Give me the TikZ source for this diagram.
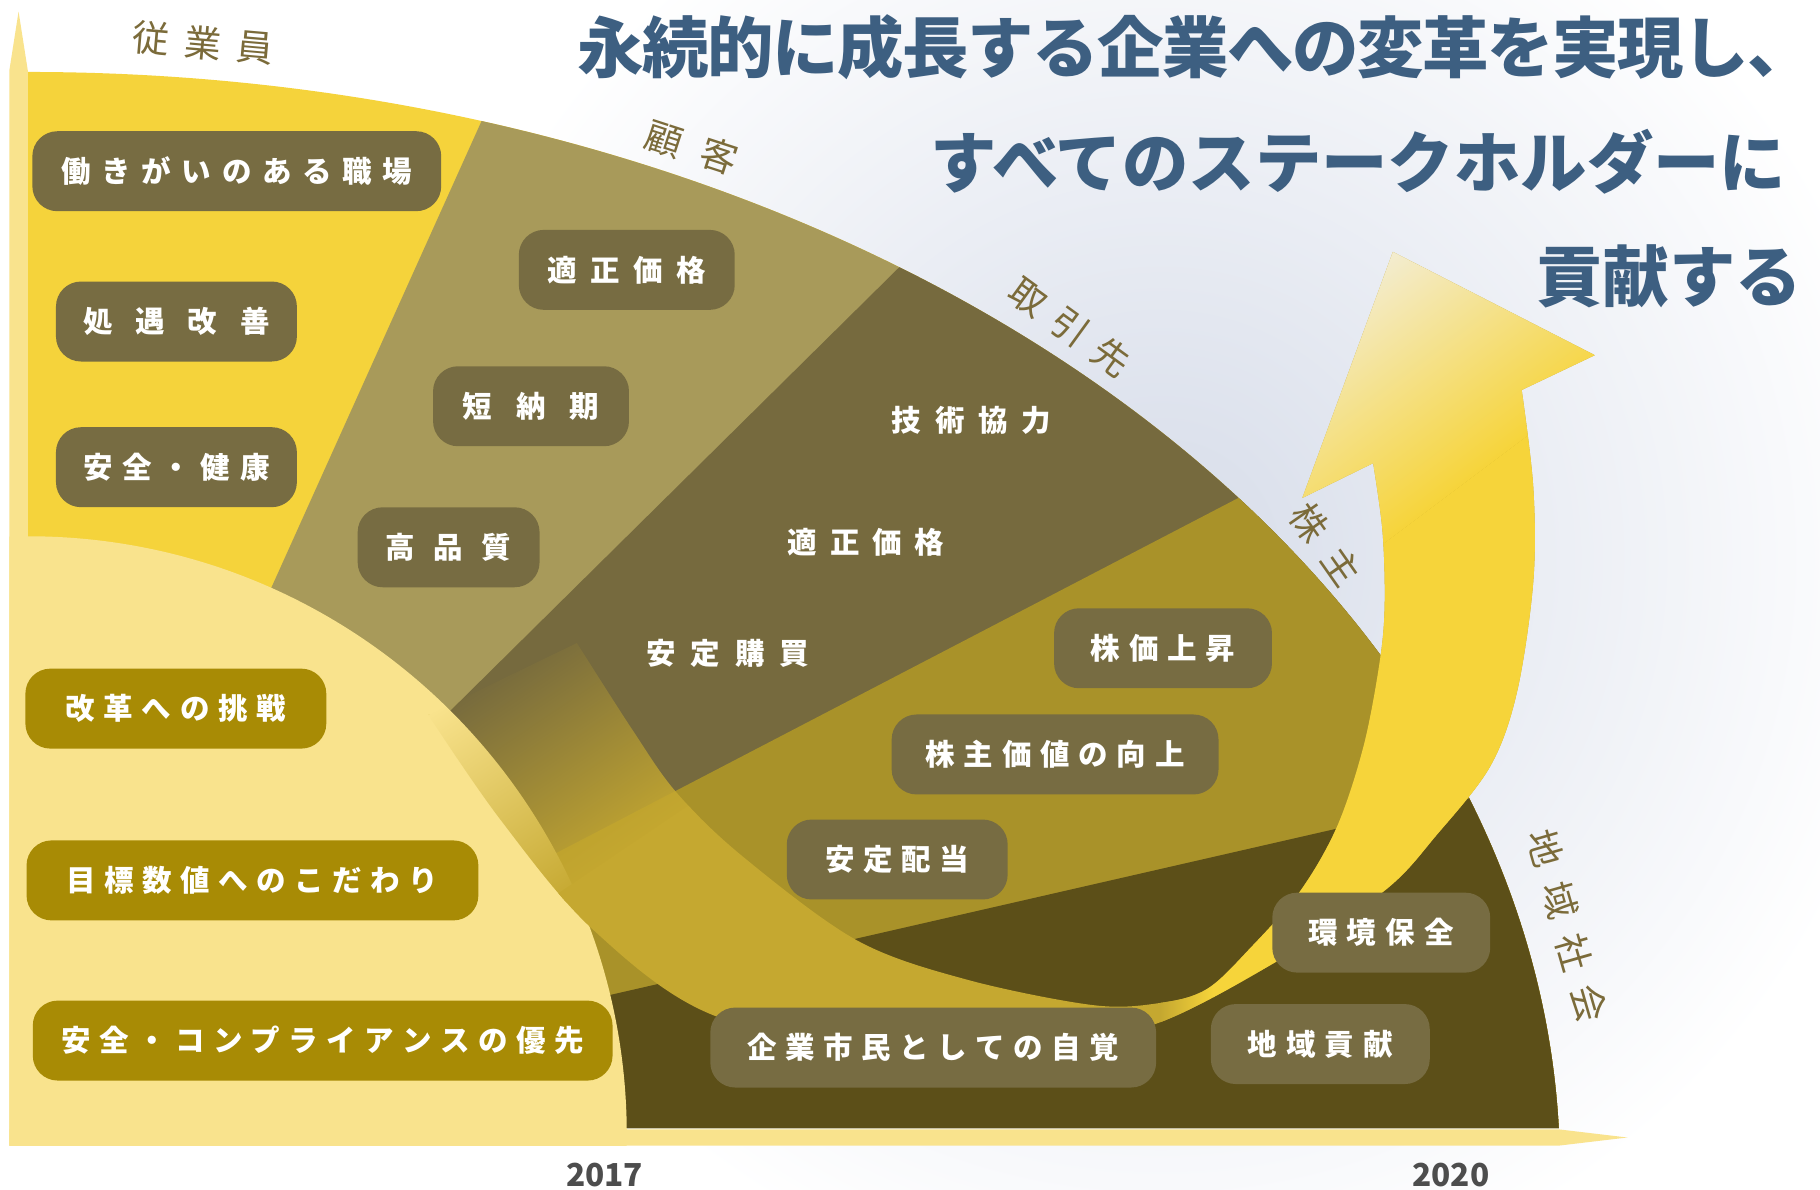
\documentclass[tikz,border=0pt]{standalone}
\usepackage{fontspec}
\usepackage{tikz}
\usetikzlibrary{calc, fadings}
\newfontfamily\jpfont{Noto Sans CJK JP}

\definecolor{empyellow}{HTML}{F5D33B}
\definecolor{custtan}{HTML}{A89A5A}
\definecolor{supolive}{HTML}{766A3E}
\definecolor{sharegold}{HTML}{A99229}
\definecolor{commbrown}{HTML}{5C4F18}
\definecolor{paleyellow}{HTML}{F9E38D}
\definecolor{boxolive}{HTML}{776C42}
\definecolor{boxgold}{HTML}{A88B05}
\definecolor{arrowgold}{HTML}{C5A830}
\definecolor{arrowyellow}{HTML}{F6D43A}
\definecolor{arrowpale}{HTML}{F3EEDA}
\definecolor{titleblue}{HTML}{3D5F81}
\definecolor{labelbrown}{HTML}{7B6B3A}
\definecolor{yeargray}{HTML}{4D4D4D}
\definecolor{glow}{HTML}{D6DCE9}

% letter spaced text: \spacedtext{gap}{characters}
\newlength\chargap
\newcommand\spacedtext[2]{\setlength\chargap{#1}\spacedfirst#2\relax}
\def\spacedfirst#1{#1\spacednext}
\def\spacednext#1{\ifx#1\relax\else\kern\chargap#1\expandafter\spacednext\fi}

% outline of the big arrow
\def\arrowoutline{(369,616) -- plot[smooth, tension=0.55] coordinates {(369,616) (431,706) (511,801) (618,876) (790,905) (900,900) (996,882) (1097,830) (1192,768) (1238,719) (1284,660) (1307,596) (1321,501) (1321,420) (1311,336)} -- (1374,306) -- (1200,217) -- (1122,429) -- (1183,399) -- plot[smooth, tension=0.55] coordinates {(1183,399) (1191,457) (1193,519) (1189,568) (1175,642) (1152,712) (1120,768) (1077,817) (1040,852) (1000,864) (942,866) (833,844) (738,810) (640,738) (583,683) (545,629) (497,554)} -- cycle}

\begin{document}
\begin{tikzpicture}[x=0.0116071cm, y=-0.0116071cm,
    darkbox/.style={fill=boxolive, rounded corners=0.25cm, minimum height=0.8cm, inner sep=0pt,
      text=white, font=\jpfont\bfseries\fontsize{8.4}{10}\selectfont},
    goldbox/.style={darkbox, fill=boxgold},
    plainitem/.style={inner sep=0pt, text=white, font=\jpfont\bfseries\fontsize{8.4}{10}\selectfont},
    group/.style={inner sep=0pt, text=labelbrown, font=\jpfont\fontsize{10.5}{12}\selectfont},
    headline/.style={anchor=west, inner sep=0pt, text=titleblue, font=\jpfont\bfseries\fontsize{18.9}{22}\selectfont},
    year/.style={inner sep=0pt, text=yeargray, font=\jpfont\bfseries\fontsize{9}{10}\selectfont}]
    \useasboundingbox (0,0) rectangle (1568,1024.4);

    % Background glow
    \fill[white] (0,0) rectangle (1568,1024.4);
    \begin{scope}
        \clip (0,0) rectangle (1568,1024.4);
        \shade[inner color=glow, outer color=white] (1000,480) circle (650);
    \end{scope}

    % Stakeholder sectors
    \coordinate (hub) at (24,972);
    \coordinate (custedge) at (415,104);
    \coordinate (supedge) at (775,230);
    \coordinate (shareedge) at (1065,430);
    \coordinate (commedge) at (1147,715);
    \begin{scope}
        \clip (24,1010) ellipse (1320 and 948);
        \clip (24,0) rectangle (1450,972);
        \fill[empyellow] (24,0) rectangle (1450,972);
        \fill[custtan] (hub) -- ($(hub)!3!(custedge)$) -- (4000,972) -- cycle;
        \fill[supolive] (hub) -- ($(hub)!3!(supedge)$) -- (4000,972) -- cycle;
        \fill[sharegold] (hub) -- ($(hub)!3!(shareedge)$) -- (4000,972) -- cycle;
        \fill[commbrown] (hub) -- ($(hub)!3!(commedge)$) -- (4000,972) -- cycle;
    \end{scope}

    % Axes and pale disk
    \fill[paleyellow] (8,61) -- (16,10) -- (24,61) -- (24,987) -- (8,987) -- cycle;
    \fill[paleyellow] (8,973) -- (1343,973) -- (1402,980) -- (1343,987) -- (8,987) -- cycle;
    \begin{scope}
        \clip (8,0) rectangle (1450,987);
        \fill[paleyellow] (24,978) circle (516);
    \end{scope}

    % The arrow
    \begin{scope}
        \clip \arrowoutline;
        % gold body, the tail fades out
        \begin{scope}[shift={(369,616)}, rotate=-56]
            \fill[arrowgold, even odd rule] (-3000,-3000) rectangle (3000,3000) (0,-220) rectangle (190,60);
        \end{scope}
        \begin{scope}[transform canvas={shift={(369,616)}, rotate=-56}]
            \fill[arrowgold, path fading=west] (0,-220) rectangle (200,60);
        \end{scope}
        \shade[left color=arrowgold, right color=arrowyellow] (1000,520) rectangle (1045,1000);
        \fill[arrowyellow] (1045,520) rectangle (1450,1000);
        % head gets paler to the tip
        \begin{scope}
            \clip (1045,150) rectangle (1450,520);
            \begin{scope}[transform canvas={rotate=36.87}]
                \fill[arrowpale] (400,600) rectangle (1300,880);
                \shade[top color=arrowpale, bottom color=arrowyellow] (400,880) rectangle (1300,1090);
                \fill[arrowyellow] (400,1090) rectangle (1300,1500);
            \end{scope}
        \end{scope}
    \end{scope}

    % Employees
    \node[darkbox, minimum width=4.09cm] (workplace) at (204,147.5) {\spacedtext{3pt}{働きがいのある職場}};
    \node[darkbox, minimum width=2.41cm] (treatment) at (152,277) {\spacedtext{6.5pt}{処遇改善}};
    \node[darkbox, minimum width=2.41cm] (safety) at (152,402.5) {\spacedtext{2.75pt}{安全・健康}};
    % Customers
    \node[darkbox, minimum width=2.16cm] (fairprice) at (540,232.5) {\spacedtext{3.9pt}{適正価格}};
    \node[darkbox, minimum width=1.96cm] (delivery) at (457.5,350) {\spacedtext{6.8pt}{短納期}};
    \node[darkbox, minimum width=1.82cm] (quality) at (386.5,471.5) {\spacedtext{5.3pt}{高品質}};
    % Suppliers
    \node[plainitem] (techcoop) at (837,362) {\spacedtext{3.9pt}{技術協力}};
    \node[plainitem] (fairbuy) at (746,467) {\spacedtext{3.6pt}{適正価格}};
    \node[plainitem] (stablebuy) at (627,563) {\spacedtext{4.2pt}{安定購買}};
    % Shareholders
    \node[darkbox, minimum width=2.18cm] (stockprice) at (1002,558.5) {\spacedtext{2.5pt}{株価上昇}};
    \node[darkbox, minimum width=3.27cm] (sharevalue) at (909,650) {\spacedtext{2.5pt}{株主価値の向上}};
    \node[darkbox, minimum width=2.21cm] (dividend) at (773,740.5) {\spacedtext{2.5pt}{安定配当}};
    % Community
    \node[darkbox, minimum width=2.18cm] (environment) at (1190,803.5) {\spacedtext{2.7pt}{環境保全}};
    \node[darkbox, minimum width=2.19cm] (regional) at (1137.5,899.5) {\spacedtext{2.6pt}{地域貢献}};
    \node[darkbox, minimum width=4.46cm] (citizen) at (804,902.5) {\spacedtext{2.4pt}{企業市民としての自覚}};
    % Company side
    \node[goldbox, minimum width=3.01cm] (reform) at (151.5,610.5) {\spacedtext{2.5pt}{改革への挑戦}};
    \node[goldbox, minimum width=4.52cm] (targets) at (217.5,758.5) {\spacedtext{2.4pt}{目標数値へのこだわり}};
    \node[goldbox, minimum width=5.80cm] (compliance) at (278,896.5) {\spacedtext{2.4pt}{安全・コンプライアンスの優先}};

    % Stakeholder names
    \node[group, rotate=-5] (employees) at (175,37) {\spacedtext{4.4pt}{従業員}};
    \node[group, rotate=-18] (customers) at (596,127) {\spacedtext{6pt}{顧客}};
    \node[group, rotate=-36] (suppliers) at (922,282) {\spacedtext{4pt}{取引先}};
    \node[group, rotate=-55] (shareholders) at (1142,469) {\spacedtext{5pt}{株主}};
    \node[group, rotate=-74] (community) at (1350,798) {\spacedtext{4.8pt}{地域社会}};

    % Title
    \node[headline] (title1) at (497,41) {\spacedtext{-0.4pt}{永続的に成長する企業への変革を実現し、}};
    \node[headline] (title2) at (801,139) {すべてのステークホルダーに};
    \node[headline] (title3) at (1323,238) {貢献する};

    % Years
    \node[year] (y2017) at (521,1012) {2017};
    \node[year] (y2020) at (1250,1012) {2020};
\end{tikzpicture}
\end{document}
